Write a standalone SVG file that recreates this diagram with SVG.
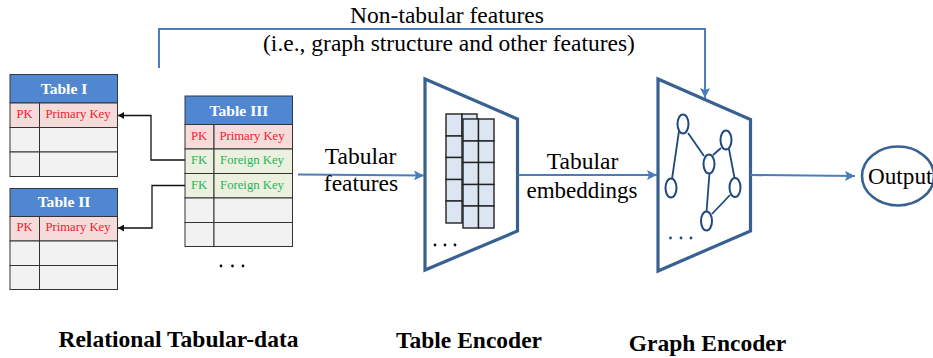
<svg xmlns="http://www.w3.org/2000/svg" width="933" height="358" viewBox="0 0 933 358">
<style>
text{font-family:"Liberation Serif","Times New Roman",serif;fill:#000}
.hd{fill:#5187d1;stroke:#2f3b4a;stroke-width:1}
.pk{fill:#f5dcdb;stroke:#333;stroke-width:1}
.fk{fill:#ebf1de;stroke:#333;stroke-width:1}
.em{fill:#f2f2f2;stroke:#333;stroke-width:1}
.ht{font-size:15.6px;font-weight:bold;fill:#fff;text-anchor:middle}
.r{font-size:12.7px;fill:#f0202a;text-anchor:middle}
.g{font-size:12.7px;fill:#1fb45c;text-anchor:middle}
.lb{font-size:23.5px;text-anchor:middle}
.cap{font-size:23.5px;font-weight:bold;text-anchor:middle}
.enc{fill:#fff;stroke:#386192;stroke-width:3.2}
.cell{fill:#dce6f2;stroke:#222;stroke-width:1.4}
.gn{fill:#fff;stroke:#1f497d;stroke-width:2}
.ge{fill:none;stroke:#1f497d;stroke-width:1.8}
.bl{fill:none;stroke:#4a7ebb;stroke-width:2}
.bk{fill:none;stroke:#111;stroke-width:1.3}
</style>
<defs>
<marker id="ab" markerUnits="userSpaceOnUse" markerWidth="11" markerHeight="10" refX="10" refY="5" orient="auto"><path d="M0 0L10 5L0 10L2 5Z" fill="#4a7ebb"/></marker>
<marker id="ak" markerUnits="userSpaceOnUse" markerWidth="7" markerHeight="7" refX="6" refY="3.5" orient="auto"><path d="M0 0L6 3.5L0 7Z" fill="#111"/></marker>
</defs>
<g id="table-1">
<rect class="hd" x="10" y="74.5" width="107.5" height="28.5"/>
<text class="ht" x="64" y="94">Table I</text>
<rect class="pk" x="10" y="103" width="29.5" height="24.5"/><rect class="pk" x="39.5" y="103" width="78" height="24.5"/>
<rect class="em" x="10" y="127.5" width="29.5" height="24.5"/><rect class="em" x="39.5" y="127.5" width="78" height="24.5"/>
<rect class="em" x="10" y="152" width="29.5" height="24.5"/><rect class="em" x="39.5" y="152" width="78" height="24.5"/>
<text class="r" x="24.5" y="118">PK</text><text class="r" x="78" y="118">Primary Key</text>
</g>
<g id="table-2">
<rect class="hd" x="10" y="188.5" width="107.5" height="28"/>
<text class="ht" x="64" y="207">Table II</text>
<rect class="pk" x="10" y="216.5" width="29.5" height="24.5"/><rect class="pk" x="39.5" y="216.5" width="78" height="24.5"/>
<rect class="em" x="10" y="241" width="29.5" height="24.5"/><rect class="em" x="39.5" y="241" width="78" height="24.5"/>
<rect class="em" x="10" y="265.5" width="29.5" height="24"/><rect class="em" x="39.5" y="265.5" width="78" height="24"/>
<text class="r" x="24.5" y="231">PK</text><text class="r" x="78" y="231">Primary Key</text>
</g>
<g id="table-3">
<rect class="hd" x="185" y="96" width="107.5" height="28.5"/>
<text class="ht" x="239" y="115.500">Table III</text>
<rect class="pk" x="185" y="124.500" width="29" height="24.500"/><rect class="pk" x="214" y="124.500" width="78.500" height="24.500"/>
<rect class="fk" x="185" y="149" width="29" height="24.500"/><rect class="fk" x="214" y="149" width="78.500" height="24.500"/>
<rect class="fk" x="185" y="173.500" width="29" height="24.500"/><rect class="fk" x="214" y="173.500" width="78.500" height="24.500"/>
<rect class="em" x="185" y="198" width="29" height="24.500"/><rect class="em" x="214" y="198" width="78.500" height="24.500"/>
<rect class="em" x="185" y="222.500" width="29" height="24"/><rect class="em" x="214" y="222.500" width="78.500" height="24"/>
<text class="r" x="199" y="139.500">PK</text><text class="r" x="252" y="139.500">Primary Key</text>
<text class="g" x="199" y="164">FK</text><text class="g" x="252" y="164">Foreign Key</text>
<text class="g" x="199" y="189">FK</text><text class="g" x="252" y="189">Foreign Key</text>
<g fill="#111"><circle cx="221" cy="266" r="1.400"/><circle cx="232.500" cy="266" r="1.400"/><circle cx="243" cy="266" r="1.400"/></g>
</g>
<g id="table-encoder">
<polygon class="enc" points="425,79 517.500,119 517.500,231 425,270"/>
<g>
<rect class="cell" x="446" y="114" width="16" height="22"/><rect class="cell" x="462" y="114" width="15" height="22"/>
<rect class="cell" x="446" y="136" width="16" height="21.500"/><rect class="cell" x="446" y="157.500" width="16" height="22"/><rect class="cell" x="446" y="179.500" width="16" height="21.500"/><rect class="cell" x="446" y="201" width="16" height="22"/>
</g>
<g>
<rect class="cell" x="463" y="119" width="15.500" height="22"/><rect class="cell" x="478.500" y="119" width="15.500" height="22"/>
<rect class="cell" x="463" y="141" width="15.500" height="21.500"/><rect class="cell" x="478.500" y="141" width="15.500" height="21.500"/>
<rect class="cell" x="463" y="162.500" width="15.500" height="22"/><rect class="cell" x="478.500" y="162.500" width="15.500" height="22"/>
<rect class="cell" x="463" y="184.500" width="15.500" height="21.500"/><rect class="cell" x="478.500" y="184.500" width="15.500" height="21.500"/>
<rect class="cell" x="463" y="206" width="15.500" height="22"/><rect class="cell" x="478.500" y="206" width="15.500" height="22"/>
</g>
<g fill="#111"><circle cx="435" cy="245" r="1.400"/><circle cx="445" cy="245" r="1.400"/><circle cx="455" cy="245" r="1.400"/></g>
</g>
<g id="graph-encoder">
<polygon class="enc" points="658,79 750.500,119.500 750.500,231 658,271"/>
<path class="ge" d="M679 131L672 179M688 133L704 156M713 155L721 148M729 149L734.500 178M730 195L712 214M709.500 173L706.500 212"/>
<ellipse class="gn" cx="683" cy="124" rx="5.500" ry="9.500"/>
<ellipse class="gn" cx="726" cy="140" rx="5.500" ry="9.500"/>
<ellipse class="gn" cx="709" cy="164" rx="5.500" ry="9.500"/>
<ellipse class="gn" cx="671" cy="188" rx="5.500" ry="9.500"/>
<ellipse class="gn" cx="735" cy="187.500" rx="5.500" ry="9.500"/>
<ellipse class="gn" cx="706.500" cy="221" rx="5.500" ry="9.500"/>
<g fill="#1f497d"><circle cx="670.500" cy="238" r="1.400"/><circle cx="681" cy="238" r="1.400"/><circle cx="691" cy="238" r="1.400"/></g>
</g>
<g id="output">
<ellipse cx="898" cy="176" rx="36" ry="29.500" fill="#fff" stroke="#386192" stroke-width="2.600"/>
<text x="868" y="184" style="font-size:23.2px">Output</text>
</g>
<g id="connectors">
<path class="bk" d="M185 160H151V115.500H118" marker-end="url(#ak)"/>
<path class="bk" d="M185 185.500H152V228H118" marker-end="url(#ak)"/>
<path class="bl" d="M159 68V29H705V98" marker-end="url(#ab)"/>
<path class="bl" d="M298 174.500L424 175.500" marker-end="url(#ab)"/>
<path class="bl" d="M518 175H657" marker-end="url(#ab)"/>
<path class="bl" d="M751 175L855 176" marker-end="url(#ab)"/>
</g>
<g id="labels">
<text class="lb" x="447" y="23">Non-tabular features</text>
<text class="lb" x="449" y="51">(i.e., graph structure and other features)</text>
<text class="lb" x="360.500" y="164">Tabular</text>
<text class="lb" x="361" y="191">features</text>
<text class="lb" x="582.500" y="169">Tabular</text>
<text class="lb" x="582" y="198" style="font-size:23px">embeddings</text>
<text class="cap" x="178.500" y="347">Relational Tabular-data</text>
<text class="cap" x="469" y="348">Table Encoder</text>
<text class="cap" x="707.500" y="351">Graph Encoder</text>
</g>
</svg>
